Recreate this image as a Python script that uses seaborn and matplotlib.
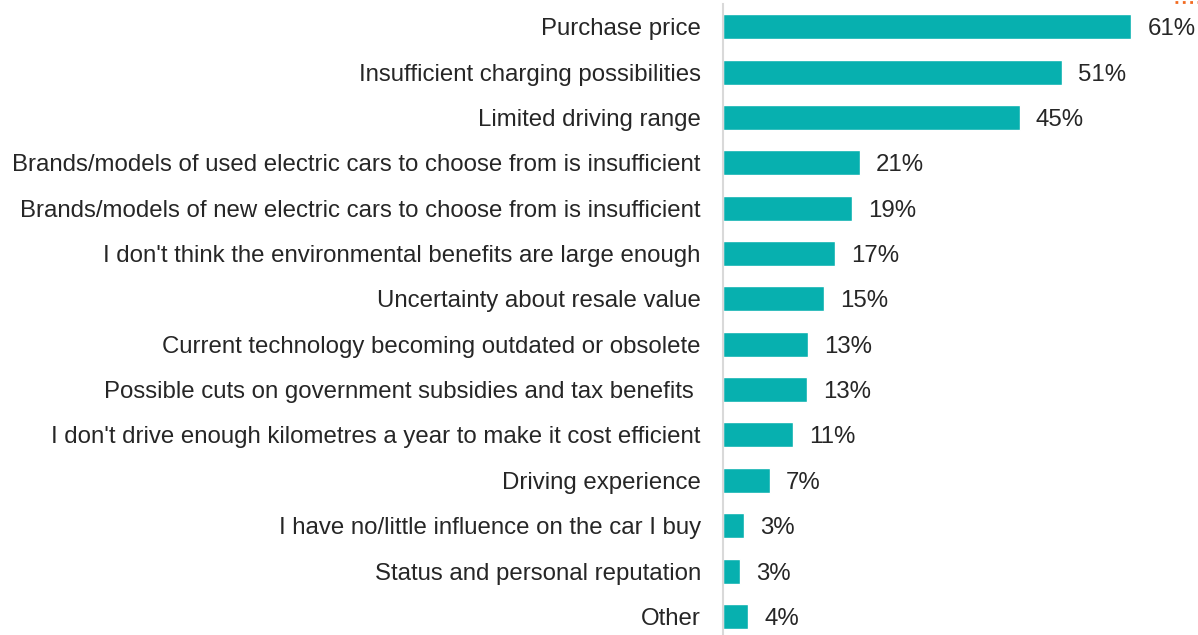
import pandas as pd
import numpy as np
import seaborn as sns
import matplotlib.pyplot as plt
from matplotlib.lines import Line2D

# barriers to buying an electric car (share of respondents, %)
reasons = [
    "Purchase price",
    "Insufficient charging possibilities",
    "Limited driving range",
    "Brands/models of used electric cars to choose from is insufficient",
    "Brands/models of new electric cars to choose from is insufficient",
    "I don't think the environmental benefits are large enough",
    "Uncertainty about resale value",
    "Current technology becoming outdated or obsolete",
    "Possible cuts on government subsidies and tax benefits ",
    "I don't drive enough kilometres a year to make it cost efficient",
    "Driving experience",
    "I have no/little influence on the car I buy",
    "Status and personal reputation",
    "Other",
]
shares = [61.4, 51.0, 44.6, 20.6, 19.4, 16.8, 15.2, 12.8, 12.6, 10.6, 7.1, 3.2, 2.6, 3.8]

df = pd.DataFrame({"reason": reasons, "share": shares})

sns.set_theme(style="white")
plt.rcParams['font.family'] = ['Liberation Sans', 'DejaVu Sans']

fig = plt.figure(figsize=(11.98, 6.35), dpi=100)
ax = fig.add_axes([723/1198, 0, 1 - 723/1198, 631/635])

sns.barplot(data=df, x="share", y="reason", orient="h", color="#07B0AF",
            saturation=1, width=0.55, ax=ax)

lbls = ax.bar_label(ax.containers[0], labels=[f"{round(v)}%" for v in shares],
                    padding=11.5, fontsize=17.3, color="#262626")
for t in lbls:
    t.set_va("center_baseline")

ax.set_xlim(0, (1198 - 723) / 6.65)
ax.set_ylim(13.41, -0.5)
ax.set_xlabel("")
ax.set_ylabel("")
ax.set_xticks([])
ax.tick_params(axis="y", length=0, pad=16, labelsize=17.3, labelcolor="#262626")

for s in ["top", "right", "bottom"]:
    ax.spines[s].set_visible(False)
ax.spines["left"].set_color("#D9D9D9")
ax.spines["left"].set_linewidth(1.5)

# little orange dotted mark in the top right corner
fig.add_artist(Line2D([1175/1198, 1198/1198], [1 - 2/635, 1 - 2/635],
                      color="#F26B21", linestyle=":", linewidth=2))

fig.savefig("out.png", dpi=100)
